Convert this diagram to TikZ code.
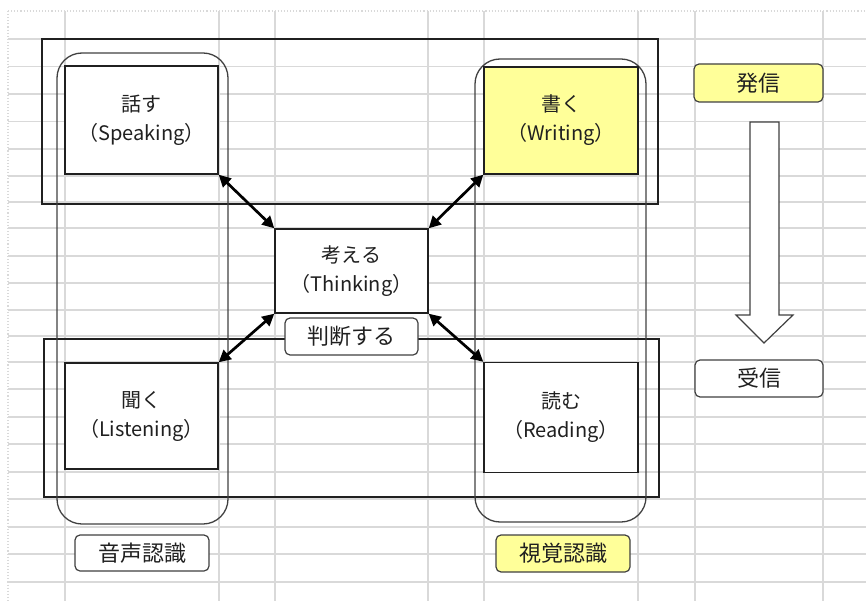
\documentclass[tikz,border=0pt]{standalone}
\usepackage{fontspec}
\setmainfont{Noto Sans CJK JP}
\usetikzlibrary{arrows.meta}
\definecolor{gridgray}{HTML}{D9D9D9}
\definecolor{notey}{HTML}{FFFF99}
\definecolor{edge}{HTML}{404040}
\definecolor{ink}{HTML}{202020}
\tikzset{
  gridline/.style={draw=gridgray, line width=1.1pt},
  gridedge/.style={draw=gridgray, line width=1.1pt, dotted},
  grouprect/.style={draw=ink, line width=1.3pt},
  groupround/.style={draw=edge, line width=1.3pt, rounded corners=25pt},
  skillbox/.style={draw=ink, line width=1.4pt, fill=white, align=center,
    inner sep=0pt, text=ink, font=\fontsize{20}{29}\selectfont},
  tagbox/.style={draw=edge, line width=1.2pt, fill=white, rounded corners=5pt,
    inner sep=0pt, text=ink, font=\fontsize{22}{24}\selectfont},
  link/.style={line width=2.7pt, draw=black,
    {Triangle[length=12pt,width=12pt]}-{Triangle[length=12pt,width=12pt]}},
  flowarrow/.style={draw=edge, line width=1.2pt, fill=white, line join=miter},
}
\begin{document}
\begin{tikzpicture}[x=1pt,y=-1pt]
\useasboundingbox (0,0) rectangle (866,601);

% spreadsheet grid
\foreach \gy in {39,66.5,94,121.5,149,176,202,228,256,283,310,336,362,389,417,444,472,499,527,554,582}
  \draw[gridline] (8,\gy) -- (866,\gy);
\foreach \gx in {65,219,275,428,484,638,695,823}
  \draw[gridline] (\gx,11) -- (\gx,601);
\draw[gridedge] (8,11) -- (866,11);
\draw[gridedge] (8,11) -- (8,601);

% output / input bands
\draw[grouprect] (42,39) rectangle (658,204);
\draw[grouprect] (44,339) rectangle (659,497);

% auditory / visual columns
\draw[groupround] (57,53) rectangle (228,524);
\draw[groupround] (475,59) rectangle (646,522);

% the four skills and thinking
\node[skillbox, minimum width=153pt, minimum height=108pt] (speak) at (141.5,120) {話す\\（Speaking）};
\node[skillbox, fill=notey, minimum width=154pt, minimum height=107pt] (write) at (561,120.5) {書く\\（Writing）};
\node[skillbox, minimum width=153pt, minimum height=106pt] (listen) at (141.5,416) {聞く\\（Listening）};
\node[skillbox, minimum width=154pt, minimum height=110pt] (read) at (561,417.5) {読む\\（Reading）};
\node[skillbox, minimum width=153pt, minimum height=84pt] (think) at (351.5,271) {考える\\（Thinking）};

% tags
\node[tagbox, minimum width=133pt, minimum height=37pt] (judge) at (351.5,336.5) {判断する};
\node[tagbox, minimum width=134pt, minimum height=36pt] (audio) at (142,553) {音声認識};
\node[tagbox, fill=notey, minimum width=134pt, minimum height=37pt] (visual) at (563,553.5) {視覚認識};
\node[tagbox, fill=notey, minimum width=129pt, minimum height=38pt] (send) at (758.5,83) {発信};
\node[tagbox, minimum width=128pt, minimum height=37pt] (receive) at (759,378.5) {受信};

% links between thinking and each skill
\draw[link] (speak.south east) -- (think.north west);
\draw[link] (write.south west) -- (think.north east);
\draw[link] (listen.north east) -- (think.south west);
\draw[link] (read.north west) -- (think.south east);

% direction from sending to receiving
\draw[flowarrow] (750,122) -- (779,122) -- (779,315) -- (793,315) -- (764,343)
  -- (736,315) -- (750,315) -- cycle;
\end{tikzpicture}
\end{document}
